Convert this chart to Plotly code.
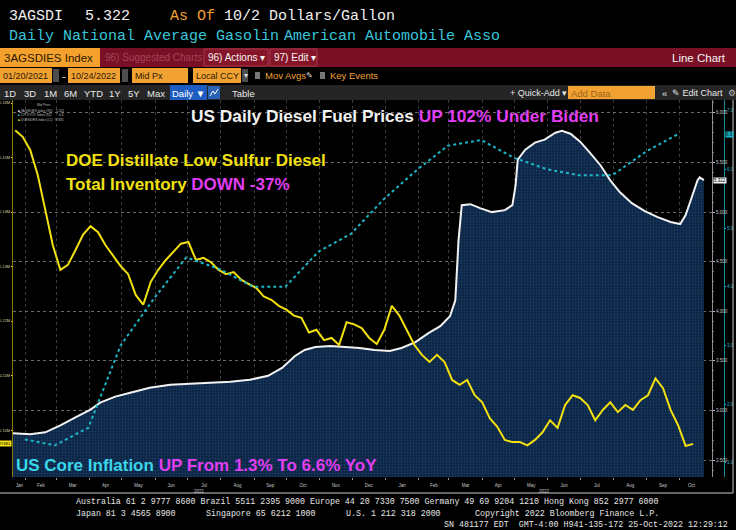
import pandas as pd
import plotly.graph_objects as go

# ---------------- data ----------------
diesel_dates = ["2021-01-20", "2021-02-05", "2021-02-19", "2021-03-05", "2021-03-19", "2021-04-02",
                "2021-04-11", "2021-04-25", "2021-05-09", "2021-05-27", "2021-06-15", "2021-07-03",
                "2021-07-22", "2021-08-10", "2021-08-28", "2021-09-14", "2021-09-27", "2021-10-09",
                "2021-10-18", "2021-10-28", "2021-11-11", "2021-11-25", "2021-12-08", "2021-12-22",
                "2022-01-05", "2022-01-16", "2022-01-29", "2022-02-10", "2022-02-21", "2022-03-02",
                "2022-03-07", "2022-03-10", "2022-03-13", "2022-03-21", "2022-03-30", "2022-04-10",
                "2022-04-22", "2022-04-29", "2022-05-02", "2022-05-04", "2022-05-11", "2022-05-20",
                "2022-05-29", "2022-06-08", "2022-06-14", "2022-06-22", "2022-07-01", "2022-07-10",
                "2022-07-20", "2022-07-29", "2022-08-07", "2022-08-18", "2022-08-30", "2022-09-11",
                "2022-09-23", "2022-10-02", "2022-10-07", "2022-10-13", "2022-10-18", "2022-10-20",
                "2022-10-24"]
diesel_vals = [2.77, 2.76, 2.78, 2.85, 2.93, 3.01, 3.08, 3.14, 3.18, 3.23, 3.26, 3.27,
               3.28, 3.29, 3.31, 3.35, 3.43, 3.55, 3.61, 3.64, 3.65, 3.64, 3.63, 3.61,
               3.60, 3.63, 3.69, 3.78, 3.85, 3.95, 4.11, 4.72, 5.07, 5.08, 5.04, 5.00,
               5.02, 5.07, 5.27, 5.53, 5.63, 5.70, 5.73, 5.80, 5.82, 5.79, 5.71, 5.60,
               5.47, 5.32, 5.20, 5.09, 5.01, 4.95, 4.90, 4.88, 4.97, 5.16, 5.32, 5.35,
               5.322]

cpi_dates = ["2021-01-31", "2021-02-28", "2021-03-31", "2021-04-30", "2021-05-31", "2021-06-30",
             "2021-07-31", "2021-08-31", "2021-09-30", "2021-10-31", "2021-11-30", "2021-12-31",
             "2022-01-31", "2022-02-28", "2022-03-31", "2022-04-30", "2022-05-31", "2022-06-30",
             "2022-07-31", "2022-08-31", "2022-09-30"]
cpi_vals = [1.4, 1.3, 1.6, 3.0, 3.8, 4.5, 4.3, 4.0, 4.0, 4.6, 4.9, 5.5,
            6.0, 6.4, 6.5, 6.2, 6.0, 5.9, 5.9, 6.3, 6.6]

inv_start = "2021-01-22"  # weekly DOE report
inv_vals = [155000, 153800, 151400, 146800, 140400, 133900, 129400, 130300, 133000, 135800,
            137400, 136300, 133900, 132100, 130100, 128600, 124800, 123000, 127200, 129400,
            131200, 132700, 134200, 134500, 131200, 131600, 130800, 129400, 128600, 129000,
            127600, 126800, 126100, 124500, 123900, 122800, 122100, 121000, 120600, 117900,
            118400, 116500, 116900, 115600, 119800, 119400, 118700, 116900, 115800, 118400,
            122800, 121000, 118400, 115600, 113800, 112500, 113800, 112500, 109200, 108300,
            109200, 106400, 105100, 102200, 100600, 98200, 97800, 97800, 97200, 98200,
            99600, 101800, 100400, 104600, 106400, 105900, 104600, 101800, 103700, 105100,
            103300, 104600, 103700, 105500, 106400, 109500, 107700, 103700, 100900, 97100,
            97481]
inv_dates = pd.date_range(inv_start, periods=len(inv_vals), freq="7D")

inv_ticks = [100000, 110000, 120000, 130000, 140000, 150000, 160000]
diesel_ticks = [2.5, 3.0, 3.5, 4.0, 4.5, 5.0, 5.5, 6.0]
cpi_ticks = [1.0, 2.0, 3.0, 4.0, 5.0, 6.0, 7.0]

# ---------------- geometry helpers ----------------
W, H = 736, 530
ML, MR, MT, MB = 13, 4, 100, 53
PW = W - ML - MR
PH = H - MT - MB


def px(x):
    return (x - ML) / PW


def py(y):
    return (H - MB - y) / PH


WHITE = "#f2f2f2"
YELLOW = "#f2e010"
TEAL = "#1db6c6"
MAGENTA = "#e23ef2"
CYAN = "#3ad6ea"
ORANGE = "#f2a232"
MONO = "Liberation Mono, DejaVu Sans Mono, monospace"
SANS = "Liberation Sans, Arial, sans-serif"
NARROW = "Liberation Sans Narrow, Liberation Sans, Arial, sans-serif"

# month label positions: centre of the visible part of each month
start = pd.Timestamp(diesel_dates[0])
end = pd.Timestamp(diesel_dates[-1])
month_starts = pd.date_range(start.to_period("M").to_timestamp(), end, freq="MS")
m_centers, m_text = [], []
for ms in month_starts:
    lo = max(ms, start)
    hi = min(ms + pd.offsets.MonthBegin(1), end)
    m_centers.append(lo + (hi - lo) / 2)
    m_text.append(ms.strftime("%b"))
grid_months = [ms for ms in month_starts if ms > start] + [end.to_period("M").to_timestamp() + pd.offsets.MonthBegin(1)]
year_centers = []
for yr in sorted(set(d.year for d in month_starts)):
    lo = max(pd.Timestamp(f"{yr}-01-01"), start)
    hi = min(pd.Timestamp(f"{yr + 1}-01-01"), end)
    year_centers.append((lo + (hi - lo) / 2, str(yr)))

fig = go.Figure()

# diesel price with dark-blue area
fig.add_trace(go.Scatter(
    x=pd.to_datetime(diesel_dates), y=diesel_vals, yaxis="y", mode="lines",
    line=dict(color=WHITE, width=2), fill="tozeroy",
    fillcolor="#0d2746",
    fillpattern=dict(shape=".", bgcolor="#0c2442", fgcolor="#26548a", size=3, solidity=0.3),
    hoverinfo="skip", showlegend=False))
# inventory
fig.add_trace(go.Scatter(
    x=inv_dates, y=inv_vals, yaxis="y2", mode="lines",
    line=dict(color=YELLOW, width=2), hoverinfo="skip", showlegend=False))
# core CPI
fig.add_trace(go.Scatter(
    x=pd.to_datetime(cpi_dates), y=cpi_vals, yaxis="y3", mode="lines",
    line=dict(color=TEAL, width=2, dash="dot"), hoverinfo="skip", showlegend=False))

tickfont = dict(family=SANS, size=4.5, color="#c8c8c8")

fig.update_layout(
    width=W, height=H, margin=dict(l=ML, r=MR, t=MT, b=MB),
    paper_bgcolor="black", plot_bgcolor="black", showlegend=False,
    xaxis=dict(
        type="date", domain=[0, px(712)], range=["2021-01-20", "2022-10-31 12:00"],
        tickmode="array", tickvals=m_centers, ticktext=m_text, ticks="",
        tickfont=tickfont, ticklabelstandoff=4, showgrid=False, showline=False, zeroline=False,
        automargin=False,
        minor=dict(tickmode="array", tickvals=grid_months, ticks="outside", ticklen=2,
                   tickcolor="#9a9a9a", showgrid=True, gridcolor="#3c3c3c", griddash="dot"),
    ),
    yaxis=dict(
        side="right", anchor="x", range=[2.33, 6.13], tickmode="array", tickvals=diesel_ticks,
        tickformat=".3f", tickfont=tickfont, ticks="outside", ticklen=2, tickcolor="#bbbbbb",
        showline=True, linecolor="#8f8f8f", linewidth=1, showgrid=True, gridcolor="#6a6a6a",
        griddash="dot", zeroline=False, automargin=False,
        minor=dict(dtick=0.1, ticks="outside", ticklen=1, tickcolor="#777777", showgrid=False),
    ),
    yaxis2=dict(
        overlaying="y", side="left", anchor="x", range=[91400, 160550], tickmode="array",
        tickvals=inv_ticks, ticktext=[f"{v / 1e6:.2f}M" for v in inv_ticks],
        tickfont=dict(family=SANS, size=4, color="#d8d0a0"), ticks="outside", ticklen=1,
        tickcolor=YELLOW, showline=True, linecolor="#8a7a10", linewidth=1, showgrid=False,
        zeroline=False, automargin=False,
    ),
    yaxis3=dict(
        overlaying="y", side="right", anchor="free", position=px(724), range=[0.76, 7.18],
        tickmode="array", tickvals=cpi_ticks, tickformat=".1f",
        tickfont=dict(family=SANS, size=4.5, color="#2bb7c6"), ticks="outside", ticklen=1,
        tickcolor=TEAL, showline=True, linecolor="#168f9b", linewidth=1, showgrid=False,
        zeroline=False, automargin=False,
    ),
)

shapes, ann = [], []


def rect(x0, y0, x1, y1, color, line=None):
    shapes.append(dict(type="rect", xref="paper", yref="paper", x0=px(x0), x1=px(x1),
                       y0=py(y1), y1=py(y0), fillcolor=color,
                       line=dict(color=line or color, width=1 if line else 0), layer="above"))


def txt(x, y, s, color, size, family=NARROW, xanchor="left", bg=None):
    d = dict(xref="paper", yref="paper", x=px(x), y=py(y), text=s, showarrow=False,
             xanchor=xanchor, yanchor="middle", font=dict(family=family, size=size, color=color),
             borderpad=0)
    if bg:
        d["bgcolor"] = bg
    ann.append(d)


# ---------------- header ----------------
txt(8, 17, "3AGSDI", WHITE, 15, MONO)
txt(84, 17, "5.322", WHITE, 15, MONO)
txt(169, 17, "As Of", ORANGE, 15, MONO)
txt(223, 17, "10/2", WHITE, 15, MONO)
txt(268, 17, "Dollars/Gallon", WHITE, 15, MONO)
txt(8, 37, "Daily National Average Gasolin", "#38c6da", 15, MONO)
txt(283, 37, "American Automobile Asso", "#38c6da", 15, MONO)

# bar 1
rect(0, 48, 736, 67, "#7a1026")
rect(0, 48, 100, 67, "#f5a12e")
txt(3, 58, "3AGSDIES Index", "#2a1800", 11.5)
txt(104, 58, "96) Suggested Charts", "#a04656", 10)
rect(204, 49, 268, 66, "#861529", "#a0384a")
txt(207, 58, "96) Actions ▾", "#f4f4f4", 10)
rect(270, 49, 317, 66, "#861529", "#a0384a")
txt(273, 58, "97) Edit ▾", "#f4f4f4", 10)
txt(727, 58, "Line Chart", "#f4f4f4", 11.5, xanchor="right")

# bar 2
for x0, x1, s in [(0, 52, "01/20/2021"), (68, 120, "10/24/2022"), (132, 188, "Mid Px"),
                  (193, 241, "Local CCY")]:
    rect(x0, 68, x1, 83, ORANGE)
    txt(x0 + 2, 76, s, "#2a1800", 9)
for x0 in (53, 122, 242):
    rect(x0, 69, x0 + 6, 82, "#4d4d4d")
txt(248.5, 76, "▾", "#dddddd", 8, xanchor="right")
txt(64, 76, "-", "#e0e0e0", 11, xanchor="center")
rect(255, 72, 260, 79, "#777777")
txt(264, 76, "Mov Avgs", ORANGE, 9.5)
txt(305, 76, "✎", "#dddddd", 8)
rect(320, 72, 325, 79, "#777777")
txt(329, 76, "Key Events", ORANGE, 9.5)

# bar 3
rect(0, 85, 736, 100, "#252525")
for xc, s in [(10, "1D"), (30, "3D"), (50, "1M"), (70, "6M"), (93, "YTD"), (115, "1Y"),
              (134, "5Y"), (156, "Max")]:
    txt(xc, 93, s, "#e8e8e8", 9.5, xanchor="center")
rect(170, 85, 207, 100, "#1d5dc2")
txt(188, 93, "Daily ▼", "#ffffff", 9.5, xanchor="center")
rect(208, 86, 220, 99, "#2a62b6")
shapes.append(dict(type="path", xref="paper", yref="paper", layer="above",
                   path=f"M {px(210)} {py(96)} L {px(213)} {py(91)} L {px(215)} {py(94)} L {px(218)} {py(89)}",
                   line=dict(color="#ffffff", width=1)))
txt(243, 93, "Table", "#e8e8e8", 9.5, xanchor="center")
txt(509, 93, "+ Quick-Add ▾", "#e8e8e8", 9)
rect(568, 86, 655, 99, ORANGE)
txt(570, 93, "Add Data", "#9a6418", 9.5)
txt(661, 93, "«", "#e8e8e8", 9.5)
txt(671, 93, "✎ Edit Chart", "#e8e8e8", 9)
txt(727, 93, "⚙", "#bbbbbb", 8.5)

# ---------------- chart texts ----------------
txt(190, 116, f"<b>US Daily Diesel Fuel Prices <span style='color:{MAGENTA}'>UP 102% Under Biden</span></b>",
    WHITE, 17.3, SANS)
txt(65, 160, "<b>DOE Distillate Low Sulfur Diesel</b>", YELLOW, 17, SANS)
txt(65, 184, f"<b>Total Inventory <span style='color:{MAGENTA}'>DOWN -37%</span></b>", YELLOW, 17, SANS)
txt(15, 465, f"<b>US Core Inflation <span style='color:{MAGENTA}'>UP From 1.3% To 6.6% YoY</span></b>",
    CYAN, 17, SANS)

# small legend
LEG = 3.2
txt(44, 105, "Mid Price", "#bfbfbf", LEG, SANS, xanchor="center")
for yy, col, name, val in [(110.5, WHITE, "3AGSDIES Index (R1)", f"{diesel_vals[-1]:.3f}"),
                           (115, TEAL, "CPI XYOY Index (R2)", f"{cpi_vals[-1]:.1f}"),
                           (119.5, YELLOW, "DOESDIES Index (L1)", f"{inv_vals[-1]}")]:
    txt(17, yy, f"<span style='color:{col}'>■</span> {name}", "#bfbfbf", LEG, SANS)
    txt(65, yy, val, "#bfbfbf", LEG, SANS, xanchor="right")

# last value flags
ann.append(dict(xref="paper", yref="y", x=px(713), y=diesel_vals[-1], text=f"{diesel_vals[-1]:.3f}",
                showarrow=False, xanchor="left", yanchor="middle", bgcolor="#f2f2f2", borderpad=0,
                font=dict(family=SANS, size=4.5, color="#000000")))
ann.append(dict(xref="paper", yref="y3", x=px(725), y=cpi_vals[-1], text=f"{cpi_vals[-1]:.1f}",
                showarrow=False, xanchor="left", yanchor="middle", bgcolor=TEAL, borderpad=0,
                font=dict(family=SANS, size=4.5, color="#000000")))
ann.append(dict(xref="paper", yref="y2", x=px(12), y=inv_vals[-1], text=f"{inv_vals[-1]}",
                showarrow=False, xanchor="right", yanchor="middle", bgcolor=YELLOW, borderpad=0,
                font=dict(family=SANS, size=4, color="#000000")))

# year labels
for c, s in year_centers:
    ann.append(dict(xref="x", yref="paper", x=c, y=py(491), text=s, showarrow=False,
                    xanchor="center", yanchor="middle", font=dict(family=SANS, size=4.5, color="#c8c8c8")))

# frame
shapes.append(dict(type="line", xref="paper", yref="paper", x0=px(0), x1=px(733), y0=py(493), y1=py(493),
                   line=dict(color="#c8c8c8", width=1), layer="above"))
shapes.append(dict(type="line", xref="paper", yref="paper", x0=px(733), x1=px(733), y0=py(100), y1=py(493),
                   line=dict(color="#c8c8c8", width=1), layer="above"))

# footer
FOOT = 8.3
txt(75, 501, "Australia 61 2 9777 8600 Brazil 5511 2395 9000 Europe 44 20 7330 7500 Germany 49 69 9204 1210 Hong Kong 852 2977 6000",
    "#e6e6e6", FOOT, MONO)
txt(75, 513, "Japan 81 3 4565 8900", "#e6e6e6", FOOT, MONO)
txt(205, 513, "Singapore 65 6212 1000", "#e6e6e6", FOOT, MONO)
txt(345, 513, "U.S. 1 212 318 2000", "#e6e6e6", FOOT, MONO)
txt(474, 513, "Copyright 2022 Bloomberg Finance L.P.", "#e6e6e6", FOOT, MONO)
txt(729, 524, "SN 481177 EDT  GMT-4:00 H941-135-172 25-Oct-2022 12:29:12", "#e6e6e6", FOOT, MONO,
    xanchor="right")

fig.update_layout(shapes=shapes, annotations=ann)
fig.write_html("out.html", config={"displayModeBar": False},
               post_script="document.documentElement.style.margin='0';document.body.style.margin='0';"
                           "document.body.style.background='black';document.body.style.overflow='hidden';")
